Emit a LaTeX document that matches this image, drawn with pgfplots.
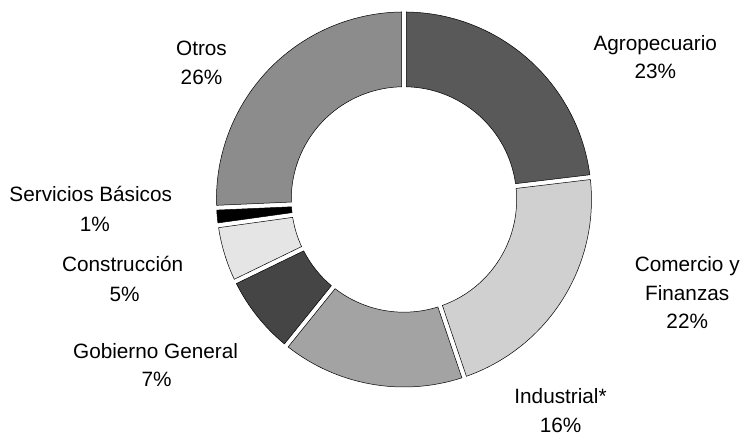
\documentclass[border=0pt]{standalone}
\usepackage{pgfplots}
\pgfplotsset{compat=1.18}
\usepackage{fontspec}
\setmainfont{Liberation Sans}

\definecolor{cAgro}{HTML}{595959}
\definecolor{cCome}{HTML}{D0D0D0}
\definecolor{cIndu}{HTML}{A3A3A3}
\definecolor{cGobi}{HTML}{454545}
\definecolor{cCons}{HTML}{E5E5E5}
\definecolor{cServ}{HTML}{000000}
\definecolor{cOtro}{HTML}{8C8C8C}

\begin{document}
\begin{tikzpicture}[every node/.style={font=\fontsize{20.8}{25}\selectfont}]
\begin{axis}[
    scale only axis,
    width=743pt, height=436pt,
    xmin=0, xmax=743, ymin=0, ymax=436,
    hide axis, clip=false,
]
\path (axis cs:0,0) rectangle (axis cs:743,436);

% shares in percent, clockwise from 12 o'clock
\gdef\cum{90}
\foreach \val/\col in {23.1/cAgro, 21.7/cCome, 16.0/cIndu, 7.0/cGobi, 5.0/cCons, 1.5/cServ, 25.7/cOtro}{%
  \pgfmathsetmacro\aA{\cum}
  \pgfmathsetmacro\aB{\cum-3.6*\val}
  \pgfmathsetmacro\dR{asin(2.4/188)}
  \pgfmathsetmacro\dr{asin(2.4/113)}
  \pgfmathsetmacro\oA{\aA-\dR}
  \pgfmathsetmacro\oB{\aB+\dR}
  \pgfmathsetmacro\iA{\aA-\dr}
  \pgfmathsetmacro\iB{\aB+\dr}
  \pgfmathsetmacro\xo{405+188*cos(\oA)}
  \pgfmathsetmacro\yo{236+188*sin(\oA)}
  \pgfmathsetmacro\xin{405+113*cos(\iB)}
  \pgfmathsetmacro\yin{236+113*sin(\iB)}
  \edef\temp{\noexpand\filldraw[fill=\col, draw=black, line width=0.5pt]
    (axis cs:\xo,\yo) arc[start angle=\oA, end angle=\oB, radius=188pt]
    -- (axis cs:\xin,\yin) arc[start angle=\iB, end angle=\iA, radius=113pt] -- cycle;}
  \temp
  \xdef\cum{\aB}
}

\node[anchor=base] at (axis cs:657,385) {Agropecuario};
\node[anchor=base] at (axis cs:657,357) {23\%};
\node[anchor=base] at (axis cs:689,164) {Comercio y};
\node[anchor=base] at (axis cs:689,135) {Finanzas};
\node[anchor=base] at (axis cs:689,107) {22\%};
\node[anchor=base] at (axis cs:562,31) {Industrial*};
\node[anchor=base] at (axis cs:562,2) {16\%};
\node[anchor=base] at (axis cs:156,77) {Gobierno General};
\node[anchor=base] at (axis cs:157,48) {7\%};
\node[anchor=base] at (axis cs:123,164) {Construcción};
\node[anchor=base] at (axis cs:125,134) {5\%};
\node[anchor=base] at (axis cs:91,234) {Servicios Básicos};
\node[anchor=base] at (axis cs:95,204) {1\%};
\node[anchor=base] at (axis cs:202,380) {Otros};
\node[anchor=base] at (axis cs:202,351) {26\%};
\end{axis}
\end{tikzpicture}
\end{document}
